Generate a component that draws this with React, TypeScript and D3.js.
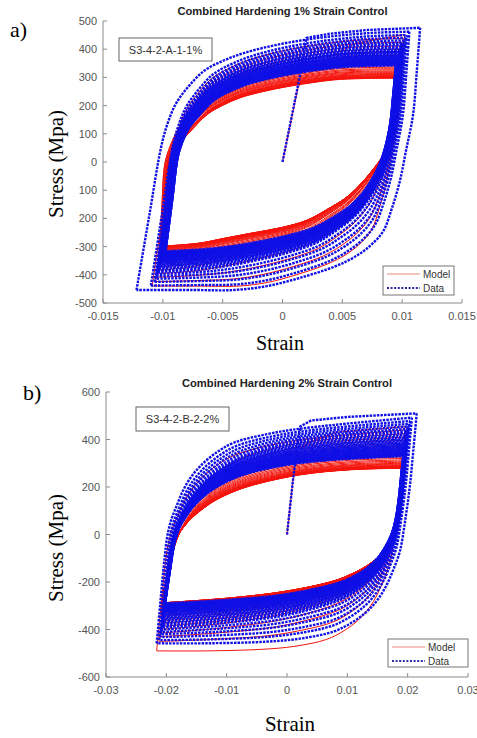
import React from "react";
import * as d3 from "d3";

type P = [number, number];

// ---------- Chart a) : 1% strain control ----------
const aXTicks = [-0.015, -0.01, -0.005, 0, 0.005, 0.01, 0.015];
const aXTickLabels = ["-0.015", "-0.01", "-0.005", "0", "0.005", "0.01", "0.015"];
const aYTicks = [500, 400, 300, 200, 100, 0, -100, -200, -300, -400, -500];
const aYTickLabels = ["500", "400", "300", "200", "100", "0", "100", "200", "-300", "-400", "-500"];

// Data (blue dotted): peak stress per cycle (tension / compression) and strain at reversal
const aDataPeakT = [476, 462, 450, 440, 431, 423, 416, 410, 404, 399, 394, 390, 386, 382, 378, 375, 372, 369, 366, 363, 360, 358, 356, 354, 352, 350, 348, 346, 344, 342];
const aDataPeakC = [-454, -438, -425, -414, -405, -397, -390, -384, -378, -373, -368, -364, -360, -356, -352, -349, -346, -343, -340, -337, -334, -332, -330, -328, -326, -324, -322, -320, -318, -316];
const aDataStrainT = [0.0115, 0.0106, 0.0104, 0.0103, 0.0102, 0.0101, 0.0101, 0.01, 0.01, 0.0099, 0.0099, 0.0099, 0.0098, 0.0098, 0.0098, 0.0097, 0.0097, 0.0097, 0.0097, 0.0096, 0.0096, 0.0096, 0.0096, 0.0096, 0.0095, 0.0095, 0.0095, 0.0095, 0.0095, 0.0095];
const aDataStrainC = [-0.0122, -0.011, -0.0107, -0.0106, -0.0105, -0.0104, -0.0104, -0.0103, -0.0103, -0.0102, -0.0102, -0.0102, -0.0101, -0.0101, -0.0101, -0.01, -0.01, -0.01, -0.01, -0.0099, -0.0099, -0.0099, -0.0099, -0.0099, -0.0098, -0.0098, -0.0098, -0.0098, -0.0098, -0.0098];
const aDataInitial: P[] = [[0, 0], [0.0013, 273], [0.0017, 360], [0.002, 440], [0.004, 455], [0.007, 468], [0.0115, 476]];

// Model (red solid)
const aModelPeakT = [452, 438, 424, 411, 399, 388, 378, 369, 361, 354, 347, 341, 336, 331, 327, 323, 320, 317, 314, 311, 309, 307, 305, 303, 302, 301, 300, 299, 298, 297];
const aModelPeakC = [-440, -424, -409, -396, -384, -373, -363, -354, -346, -339, -333, -328, -323, -319, -316, -313, -311, -309, -307, -305, -304, -303, -302, -301, -300, -300, -299, -299, -298, -298];
const aModelStrainT = [0.0102, 0.0101, 0.01, 0.01, 0.01, 0.0099, 0.0099, 0.0099, 0.0099, 0.0098, 0.0098, 0.0098, 0.0098, 0.0098, 0.0097, 0.0097, 0.0097, 0.0097, 0.0097, 0.0097, 0.0096, 0.0096, 0.0096, 0.0096, 0.0096, 0.0096, 0.0096, 0.0096, 0.0096, 0.0096];
const aModelStrainC = [-0.0109, -0.0106, -0.0105, -0.0104, -0.0104, -0.0103, -0.0103, -0.0102, -0.0102, -0.0102, -0.0101, -0.0101, -0.0101, -0.01, -0.01, -0.01, -0.01, -0.0099, -0.0099, -0.0099, -0.0099, -0.0099, -0.0099, -0.0098, -0.0098, -0.0098, -0.0098, -0.0098, -0.0098, -0.0098];
const aModelInitial: P[] = [[0, 0], [0.0013, 265], [0.003, 350], [0.006, 420], [0.0102, 452]];

// Branch shapes (fraction of strain travel, fraction of stress travel)
const aUpOuter: P[] = [[0, 0], [0.05, 0.29], [0.097, 0.56], [0.12, 0.65], [0.152, 0.731], [0.2, 0.8], [0.257, 0.857], [0.33, 0.895], [0.401, 0.921], [0.5, 0.947], [0.6, 0.966], [0.7, 0.98], [0.81, 0.991], [0.9, 0.997], [1, 1]];
const aUpInner: P[] = [[0, 0], [0.014, 0.25], [0.028, 0.49], [0.05, 0.57], [0.075, 0.63], [0.109, 0.684], [0.181, 0.784], [0.25, 0.84], [0.324, 0.884], [0.42, 0.92], [0.526, 0.95], [0.625, 0.972], [0.725, 0.99], [0.85, 0.998], [1, 1]];
const aDownOuter: P[] = [[0, 0], [0.012, 0.17], [0.025, 0.332], [0.05, 0.47], [0.072, 0.587], [0.1, 0.69], [0.131, 0.777], [0.18, 0.835], [0.236, 0.877], [0.3, 0.91], [0.422, 0.953], [0.54, 0.985], [0.658, 1], [0.8, 1], [1, 1]];
const aDownInner: P[] = [[0, 0], [0.012, 0.15], [0.025, 0.3], [0.04, 0.4], [0.06, 0.46], [0.084, 0.51], [0.15, 0.62], [0.215, 0.706], [0.3, 0.78], [0.389, 0.846], [0.5, 0.89], [0.632, 0.924], [0.75, 0.955], [0.85, 0.982], [1, 1]];

// ---------- Chart b) : 2% strain control ----------
const bXTicks = [-0.03, -0.02, -0.01, 0, 0.01, 0.02, 0.03];
const bXTickLabels = ["-0.03", "-0.02", "-0.01", "0", "0.01", "0.02", "0.03"];
const bYTicks = [600, 400, 200, 0, -200, -400, -600];
const bYTickLabels = ["600", "400", "200", "0", "-200", "-400", "-600"];

const bDataPeakT = [510, 492, 478, 466, 455, 445, 436, 428, 420, 413, 406, 400, 394, 388, 383, 378, 373, 368, 364, 360, 356, 352, 348, 345, 342, 339, 336, 334, 332, 330];
const bDataPeakC = [-458, -445, -432, -420, -410, -400, -391, -383, -375, -368, -361, -355, -349, -343, -338, -333, -328, -324, -320, -316, -312, -309, -306, -303, -300, -298, -296, -294, -292, -290];
const bDataStrainT = [0.0215, 0.0207, 0.0204, 0.0202, 0.0201, 0.02, 0.0199, 0.0199, 0.0198, 0.0198, 0.0197, 0.0197, 0.0197, 0.0196, 0.0196, 0.0196, 0.0195, 0.0195, 0.0195, 0.0195, 0.0194, 0.0194, 0.0194, 0.0194, 0.0194, 0.0193, 0.0193, 0.0193, 0.0193, 0.0193];
const bDataStrainC = [-0.0216, -0.0212, -0.021, -0.0209, -0.0208, -0.0208, -0.0207, -0.0207, -0.0207, -0.0206, -0.0206, -0.0206, -0.0206, -0.0205, -0.0205, -0.0205, -0.0205, -0.0205, -0.0204, -0.0204, -0.0204, -0.0204, -0.0204, -0.0204, -0.0203, -0.0203, -0.0203, -0.0203, -0.0203, -0.0203];
const bDataInitial: P[] = [[0, 0], [0.001, 230], [0.0015, 330], [0.0022, 455], [0.004, 480], [0.01, 495], [0.0215, 510]];

const bModelPeakT = [455, 440, 425, 410, 396, 383, 371, 360, 350, 341, 333, 326, 320, 314, 309, 304, 300, 297, 294, 291, 289, 287, 285, 284, 283, 282, 281, 280, 280, 279];
const bModelPeakC = [-490, -450, -430, -415, -400, -387, -375, -364, -354, -345, -337, -330, -323, -317, -312, -308, -304, -301, -298, -296, -294, -292, -291, -290, -289, -289, -288, -288, -288, -288];
const bModelStrainT = [0.0198, 0.0196, 0.0195, 0.0195, 0.0194, 0.0194, 0.0194, 0.0194, 0.0193, 0.0193, 0.0193, 0.0193, 0.0193, 0.0193, 0.0193, 0.0193, 0.0193, 0.0193, 0.0193, 0.0193, 0.0193, 0.0193, 0.0193, 0.0193, 0.0193, 0.0193, 0.0193, 0.0193, 0.0193, 0.0193];
const bModelStrainC = [-0.0216, -0.0212, -0.021, -0.0209, -0.0208, -0.0208, -0.0208, -0.0208, -0.0208, -0.0208, -0.0208, -0.0208, -0.0208, -0.0208, -0.0208, -0.0208, -0.0208, -0.0208, -0.0208, -0.0208, -0.0208, -0.0208, -0.0208, -0.0208, -0.0208, -0.0208, -0.0208, -0.0208, -0.0208, -0.0208];
const bModelInitial: P[] = [[0, 0], [0.0012, 280], [0.003, 380], [0.008, 430], [0.0198, 455]];

const bUpOuter: P[] = [[0, 0], [0.01, 0.13], [0.019, 0.251], [0.03, 0.38], [0.039, 0.47], [0.055, 0.55], [0.077, 0.615], [0.1, 0.68], [0.13, 0.74], [0.167, 0.79], [0.23, 0.85], [0.295, 0.891], [0.42, 0.925], [0.552, 0.949], [1, 1]];
const bUpInner: P[] = [[0, 0], [0.015, 0.135], [0.03, 0.27], [0.042, 0.383], [0.055, 0.45], [0.07, 0.506], [0.095, 0.57], [0.125, 0.629], [0.165, 0.69], [0.214, 0.752], [0.29, 0.82], [0.379, 0.875], [0.574, 0.951], [0.778, 0.988], [1, 1]];
const bDownOuter: P[] = [[0, 0], [0.013, 0.16], [0.026, 0.312], [0.045, 0.47], [0.065, 0.601], [0.09, 0.68], [0.116, 0.747], [0.15, 0.81], [0.193, 0.863], [0.25, 0.91], [0.32, 0.949], [0.45, 0.98], [0.578, 0.993], [0.8, 1], [1, 1]];
const bDownInner: P[] = [[0, 0], [0.007, 0.13], [0.014, 0.27], [0.02, 0.371], [0.03, 0.44], [0.04, 0.494], [0.06, 0.56], [0.082, 0.617], [0.12, 0.685], [0.165, 0.74], [0.22, 0.79], [0.289, 0.838], [0.481, 0.912], [0.703, 0.961], [1, 1]];

// ---------- styles ----------
const BLUE = "#0f0fe6";
const RED = "#f4140c";
const MODEL_LEGEND = "#e88a78";
const LEGEND_BLUE = "#2a2aa8";
const AXIS = "#8a8a8a";
const TICK_TEXT = "#555";
const SANS = "'Liberation Sans', Arial, sans-serif";
const SERIF = "'Liberation Serif', 'Times New Roman', serif";
const DASH = "2.5 1.1";

interface Shapes { upA: P[]; upB: P[]; downA: P[]; downB: P[] }

function branch(tA: P[], tB: P[], w: number, e0: number, s0: number, e1: number, s1: number): P[] {
  return tA.map((a, k) => {
    const b = tB[k];
    const u = a[0] * (1 - w) + b[0] * w;
    const v = a[1] * (1 - w) + b[1] * w;
    return [e0 + (e1 - e0) * u, s0 + (s1 - s0) * v] as P;
  });
}

function cycleBranches(strT: number[], sigT: number[], strC: number[], sigC: number[], sh: Shapes, settle: number, wMax: number): P[][] {
  const out: P[][] = [];
  const n = sigT.length;
  for (let i = 0; i < n; i++) {
    const w = Math.min(wMax, i / settle);
    out.push(branch(sh.downA, sh.downB, w, strT[i], sigT[i], strC[i], sigC[i]));
    if (i + 1 < n) {
      const w2 = Math.min(wMax, (i + 1) / settle);
      out.push(branch(sh.upA, sh.upB, w2, strC[i], sigC[i], strT[i + 1], sigT[i + 1]));
    }
  }
  return out;
}

interface Series { strT: number[]; sigT: number[]; strC: number[]; sigC: number[]; init: P[] }

interface ChartProps {
  xDomain: [number, number];
  xRange: [number, number];
  yDomain: [number, number];
  yRange: [number, number];
  xTicks: number[];
  xTickLabels: string[];
  yTicks: number[];
  yTickLabels: string[];
  data: Series;
  model: Series;
  shapes: Shapes;
  title: string;
  titleY: number;
  tag: string;
  tagX: number;
  tagY: number;
  box: { x: number; y: number; w: number; h: number; text: string };
  legend: { x: number; y: number; w: number; h: number };
  xLabelX: number;
  xLabelY: number;
  xLabelSize: number;
  yLabelCY: number;
}

function Chart(p: ChartProps) {
  const xs = d3.scaleLinear().domain(p.xDomain).range(p.xRange);
  const ys = d3.scaleLinear().domain(p.yDomain).range(p.yRange);
  const smooth = d3.line<P>().x(d => xs(d[0])).y(d => ys(d[1])).curve(d3.curveCatmullRom.alpha(0.5));
  const straight = d3.line<P>().x(d => xs(d[0])).y(d => ys(d[1]));
  const modelBr = cycleBranches(p.model.strT, p.model.sigT, p.model.strC, p.model.sigC, p.shapes, 4, 1);
  const dataBr = cycleBranches(p.data.strT, p.data.sigT, p.data.strC, p.data.sigC, p.shapes, 10, 0.6);
  const x0 = p.xRange[0], x1 = p.xRange[1];
  const yb = p.yRange[0];
  const lg = p.legend;
  return (
    <g>
      <text x={(x0 + x1) / 2} y={p.titleY} textAnchor="middle" fontFamily={SANS} fontWeight="bold" fontSize={11.2} fill="#222">{p.title}</text>
      <text x={p.tagX} y={p.tagY} fontFamily={SERIF} fontSize={22} fill="#000">{p.tag}</text>
      {/* model */}
      <g fill="none" stroke={RED} strokeWidth={1}>
        <path d={straight(p.model.init) || ""} />
        {modelBr.map((b, i) => <path key={i} d={smooth(b) || ""} />)}
      </g>
      {/* data */}
      <g fill="none" stroke={BLUE} strokeWidth={2.4} strokeDasharray={DASH}>
        <path d={straight(p.data.init) || ""} />
        {dataBr.map((b, i) => <path key={i} d={smooth(b) || ""} />)}
      </g>
      {/* axes */}
      <line x1={x0} x2={x0} y1={p.yRange[1]} y2={yb} stroke={AXIS} strokeWidth={1} />
      <line x1={x0} x2={x1} y1={yb} y2={yb} stroke={AXIS} strokeWidth={1} />
      {p.yTicks.map((t, i) => (
        <g key={"y" + i}>
          <line x1={x0} x2={x0 + 4} y1={ys(t)} y2={ys(t)} stroke={AXIS} />
          <text x={x0 - 6} y={ys(t) + 4} textAnchor="end" fontFamily={SANS} fontSize={11} fill={TICK_TEXT}>{p.yTickLabels[i]}</text>
        </g>
      ))}
      {p.xTicks.map((t, i) => (
        <g key={"x" + i}>
          <line x1={xs(t)} x2={xs(t)} y1={yb} y2={yb - 4} stroke={AXIS} />
          <text x={xs(t)} y={yb + 17} textAnchor="middle" fontFamily={SANS} fontSize={11} fill={TICK_TEXT}>{p.xTickLabels[i]}</text>
        </g>
      ))}
      {/* annotation box */}
      <rect x={p.box.x} y={p.box.y} width={p.box.w} height={p.box.h} fill="#fff" stroke="#666" strokeWidth={1} />
      <text x={p.box.x + p.box.w / 2} y={p.box.y + p.box.h / 2 + 4} textAnchor="middle" fontFamily={SANS} fontSize={11} fill="#333">{p.box.text}</text>
      {/* legend */}
      <rect x={lg.x} y={lg.y} width={lg.w} height={lg.h} fill="#fff" stroke="#777" strokeWidth={1} />
      <line x1={lg.x + 4} x2={lg.x + 37} y1={lg.y + 8} y2={lg.y + 8} stroke={MODEL_LEGEND} strokeWidth={1} />
      <text x={lg.x + 40} y={lg.y + 11.5} fontFamily={SANS} fontSize={10} fill="#333">Model</text>
      <line x1={lg.x + 4} x2={lg.x + 37} y1={lg.y + 22} y2={lg.y + 22} stroke={LEGEND_BLUE} strokeWidth={2} strokeDasharray="2 1.6" />
      <text x={lg.x + 40} y={lg.y + 25.5} fontFamily={SANS} fontSize={10} fill="#333">Data</text>
      {/* axis labels */}
      <text x={p.xLabelX} y={p.xLabelY} textAnchor="middle" fontFamily={SERIF} fontSize={p.xLabelSize} fill="#000">Strain</text>
      <text transform={`translate(63,${p.yLabelCY}) rotate(-90)`} textAnchor="middle" fontFamily={SERIF} fontSize={21} fill="#000">Stress (Mpa)</text>
    </g>
  );
}

export default function App() {
  return (
    <svg width={477} height={738} style={{ position: "absolute", left: 0, top: 0, background: "#fff" }}>
      <rect width={477} height={738} fill="#fff" />
      <Chart
        xDomain={[-0.015, 0.015]} xRange={[103, 462]} yDomain={[-500, 500]} yRange={[303, 21]}
        xTicks={aXTicks} xTickLabels={aXTickLabels} yTicks={aYTicks} yTickLabels={aYTickLabels}
        data={{ strT: aDataStrainT, sigT: aDataPeakT, strC: aDataStrainC, sigC: aDataPeakC, init: aDataInitial }}
        model={{ strT: aModelStrainT, sigT: aModelPeakT, strC: aModelStrainC, sigC: aModelPeakC, init: aModelInitial }}
        shapes={{ upA: aUpOuter, upB: aUpInner, downA: aDownOuter, downB: aDownInner }}
        title="Combined Hardening 1% Strain Control" titleY={15}
        tag="a)" tagX={10} tagY={37}
        box={{ x: 119, y: 38, w: 93, h: 23, text: "S3-4-2-A-1-1%" }}
        legend={{ x: 383, y: 266, w: 71, h: 29 }}
        xLabelX={280} xLabelY={350} xLabelSize={20} yLabelCY={164}
      />
      <Chart
        xDomain={[-0.03, 0.03]} xRange={[106, 468]} yDomain={[-600, 600]} yRange={[677, 392]}
        xTicks={bXTicks} xTickLabels={bXTickLabels} yTicks={bYTicks} yTickLabels={bYTickLabels}
        data={{ strT: bDataStrainT, sigT: bDataPeakT, strC: bDataStrainC, sigC: bDataPeakC, init: bDataInitial }}
        model={{ strT: bModelStrainT, sigT: bModelPeakT, strC: bModelStrainC, sigC: bModelPeakC, init: bModelInitial }}
        shapes={{ upA: bUpOuter, upB: bUpInner, downA: bDownOuter, downB: bDownInner }}
        title="Combined Hardening 2% Strain Control" titleY={387}
        tag="b)" tagX={23} tagY={400}
        box={{ x: 136, y: 407, w: 93, h: 24, text: "S3-4-2-B-2-2%" }}
        legend={{ x: 388, y: 639, w: 80, h: 28 }}
        xLabelX={290} xLabelY={731} xLabelSize={21} yLabelCY={548}
      />
    </svg>
  );
}
